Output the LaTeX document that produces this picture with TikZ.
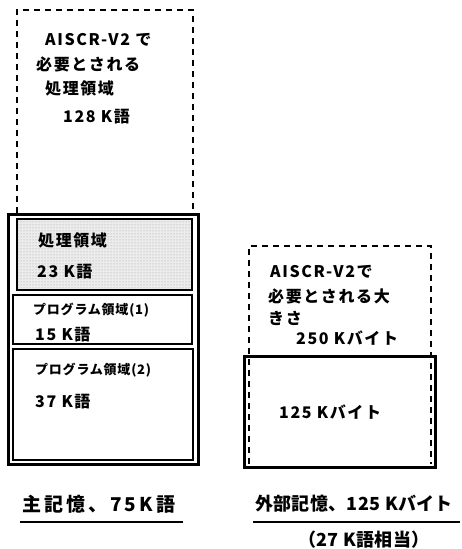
\documentclass[tikz,border=0pt]{standalone}
\usepackage{fontspec}
\setmainfont{Noto Sans CJK JP}
\usetikzlibrary{patterns}
\begin{document}
\begin{tikzpicture}[x=1pt,y=-1pt,
  dbox/.style={draw, dashed, line width=1.3pt, dash pattern=on 6pt off 5pt},
  thickbox/.style={draw, line width=3pt},
  inbox/.style={draw, line width=1.5pt},
  txt/.style={anchor=west, inner sep=0pt, font=\fontsize{16}{16}\selectfont\bfseries\addfontfeature{LetterSpace=10}},
  stxt/.style={anchor=west, inner sep=0pt, font=\fontsize{13}{13}\selectfont\bfseries\addfontfeature{LetterSpace=6}},
  ltxt/.style={anchor=west, inner sep=0pt, font=\fontsize{19}{19}\selectfont\bfseries\addfontfeature{LetterSpace=16}},
  rtxt/.style={anchor=west, inner sep=0pt, font=\fontsize{18}{18}\selectfont\bfseries\addfontfeature{LetterSpace=2}}]
\useasboundingbox (0,0) rectangle (462,549);
% left column
\draw[dbox] (17,213) -- (17,10) -- (193,10) -- (193,213);
\node[txt] (l1) at (45,40) {AISCR-V2 で};
\node[txt] (l2) at (36,64) {必要とされる};
\node[txt] (l3) at (45,88) {処理領域};
\node[txt] (l4) at (63,117) {128 K語};
\draw[thickbox] (8,214) rectangle (198,464);
\fill[gray!15] (17,219) rectangle (192,290);
\fill[pattern=dots, pattern color=gray!80] (17,219) rectangle (192,290);
\draw[inbox] (17,219) rectangle (192,290);
\draw[inbox] (13,295) rectangle (192,344);
\draw[inbox] (13,349) rectangle (193,460);
\node[txt] (a1) at (38,240) {処理領域};
\node[txt] (a2) at (37,272) {23 K語};
\node[stxt] (b1) at (33,310) {プログラム領域(1)};
\node[txt] (b2) at (35,335) {15 K語};
\node[stxt] (c1) at (35,370) {プログラム領域(2)};
\node[txt] (c2) at (35,402) {37 K語};
% right column
\draw[dbox] (249,464) -- (249,246) -- (431,246) -- (431,464);
\draw[thickbox] (244,356) rectangle (435,467);
\node[txt] (r1) at (270,272) {AISCR-V2で};
\node[txt] (r2) at (268,296) {必要とされる大};
\node[txt] (r3) at (268,318) {きさ};
\node[txt] (r4) at (296,338) {250 Kバイト};
\node[txt] (r5) at (279,412) {125 Kバイト};
% captions
\node[ltxt] (m) at (22,504) {主記憶、75K語};
\draw[line width=2pt] (20,522) -- (183,522);
\node[rtxt] (e) at (255,504) {外部記憶、125 Kバイト};
\draw[line width=2pt] (253,522) -- (460,522);
\node[rtxt] (e2) at (298,540) {（27 K語相当）};
\end{tikzpicture}
\end{document}
